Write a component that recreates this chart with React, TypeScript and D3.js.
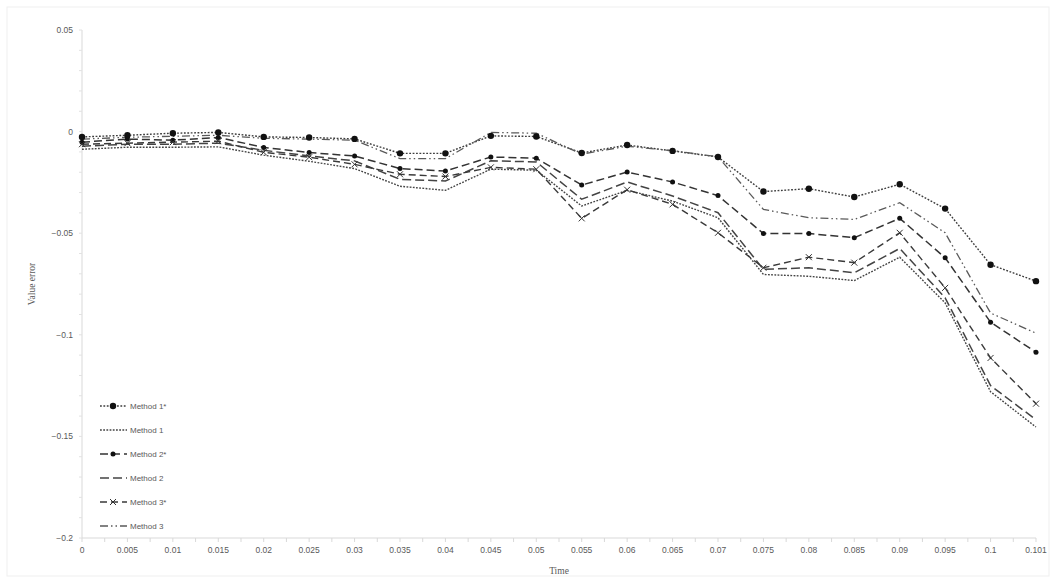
import React, { useEffect, useRef } from 'react';
import * as d3 from 'd3';

const timeLabels = [
  '0', '0.005', '0.01', '0.015', '0.02', '0.025', '0.03', '0.035', '0.04', '0.045', '0.05',
  '0.055', '0.06', '0.065', '0.07', '0.075', '0.08', '0.085', '0.09', '0.095', '0.1', '0.101',
];

const method1Star = [
  -0.0026, -0.0018, -0.0008, -0.0004, -0.0026, -0.0029, -0.0036, -0.0107, -0.0107, -0.0021, -0.0024,
  -0.0105, -0.0066, -0.0095, -0.0125, -0.0295, -0.0281, -0.0322, -0.0259, -0.0379, -0.0655, -0.0736,
];
const method1 = [
  -0.0087, -0.0077, -0.0077, -0.0075, -0.0116, -0.0146, -0.0182, -0.0269, -0.0289, -0.0185, -0.019,
  -0.0366, -0.0289, -0.0342, -0.0424, -0.0703, -0.0712, -0.0733, -0.0618, -0.0843, -0.128, -0.1454,
];
const method2Star = [
  -0.0052, -0.0037, -0.0042, -0.0029, -0.0078, -0.0103, -0.012, -0.0182, -0.0194, -0.0125, -0.0131,
  -0.0263, -0.0199, -0.0248, -0.0315, -0.0502, -0.0502, -0.0522, -0.0427, -0.0621, -0.0938, -0.1086,
];
const method2 = [
  -0.0072, -0.0062, -0.0062, -0.0057, -0.0092, -0.012, -0.0144, -0.0235, -0.0243, -0.0144, -0.0149,
  -0.0333, -0.0248, -0.0317, -0.0399, -0.0678, -0.067, -0.0695, -0.0575, -0.0818, -0.125, -0.1418,
];
const method3Star = [
  -0.0062, -0.0057, -0.0052, -0.0047, -0.0102, -0.0126, -0.0161, -0.021, -0.0221, -0.0176, -0.0185,
  -0.0427, -0.0286, -0.0358, -0.0498, -0.067, -0.0618, -0.0645, -0.0498, -0.0769, -0.1114, -0.1339,
];
const method3 = [
  -0.0037, -0.0028, -0.0023, -0.0018, -0.0033, -0.0037, -0.0042, -0.0133, -0.0133, -0.0004, -0.0008,
  -0.0111, -0.0072, -0.0094, -0.0124, -0.0383, -0.0424, -0.0432, -0.035, -0.0498, -0.0893, -0.0992,
];

const yTicks = [0.05, 0, -0.05, -0.1, -0.15, -0.2];

type Marker = 'circle' | 'dot' | 'cross' | 'none';

interface Series {
  name: string;
  values: number[];
  dash: string;
  color: string;
  width: number;
  marker: Marker;
}

const series: Series[] = [
  { name: 'Method 1*', values: method1Star, dash: '1.8,1.6', color: '#3d3d3d', width: 1.4, marker: 'circle' },
  { name: 'Method 1', values: method1, dash: '1.8,1.4', color: '#444', width: 1.4, marker: 'none' },
  { name: 'Method 2*', values: method2Star, dash: '8,4', color: '#333', width: 1.5, marker: 'dot' },
  { name: 'Method 2', values: method2, dash: '9,4', color: '#444', width: 1.5, marker: 'none' },
  { name: 'Method 3*', values: method3Star, dash: '7,4', color: '#3a3a3a', width: 1.4, marker: 'cross' },
  { name: 'Method 3', values: method3, dash: '8,3,1.5,3,1.5,3', color: '#5a5a5a', width: 1.3, marker: 'none' },
];

const drawMarker = (g: d3.Selection<SVGGElement, unknown, null, undefined>, kind: Marker, x: number, y: number) => {
  if (kind === 'circle') {
    g.append('circle').attr('cx', x).attr('cy', y).attr('r', 3.2).attr('fill', '#111');
  } else if (kind === 'dot') {
    g.append('circle').attr('cx', x).attr('cy', y).attr('r', 2.5).attr('fill', '#111');
  } else if (kind === 'cross') {
    const s = 3;
    g.append('path')
      .attr('d', `M${x - s},${y - s}L${x + s},${y + s}M${x - s},${y + s}L${x + s},${y - s}`)
      .attr('stroke', '#333')
      .attr('stroke-width', 1)
      .attr('fill', 'none');
  }
};

const App: React.FC = () => {
  const svgRef = useRef<SVGSVGElement>(null);
  const width = 1056;
  const height = 583;

  useEffect(() => {
    if (!svgRef.current) return;
    const svg = d3.select(svgRef.current);
    svg.selectAll('*').remove();

    const left = 82;
    const right = 1036;
    const top = 30;
    const bottom = 538;

    svg.append('rect')
      .attr('x', 7).attr('y', 7)
      .attr('width', width - 14).attr('height', height - 14)
      .attr('fill', '#fff')
      .attr('stroke', '#efefef');

    const xScale = d3.scalePoint<string>().domain(timeLabels).range([left, right]);
    const yScale = d3.scaleLinear().domain([-0.2, 0.05]).range([bottom, top]);

    const g = svg.append('g');

    // Axes lines
    g.append('line')
      .attr('x1', left).attr('x2', left)
      .attr('y1', top).attr('y2', bottom)
      .attr('stroke', '#d9d9d9');
    g.append('line')
      .attr('x1', left).attr('x2', right)
      .attr('y1', bottom).attr('y2', bottom)
      .attr('stroke', '#d9d9d9');

    // Minor y ticks
    d3.range(-0.2, 0.0501, 0.01).forEach(v => {
      g.append('line')
        .attr('x1', left - 3).attr('x2', left)
        .attr('y1', yScale(v)).attr('y2', yScale(v))
        .attr('stroke', '#e2e2e2');
    });

    // x ticks at categories and midpoints
    const step = xScale.step();
    timeLabels.forEach((t, i) => {
      const x = xScale(t) || 0;
      g.append('line')
        .attr('x1', x).attr('x2', x)
        .attr('y1', bottom).attr('y2', bottom + 4)
        .attr('stroke', '#d9d9d9');
      if (i < timeLabels.length - 1) {
        g.append('line')
          .attr('x1', x + step / 2).attr('x2', x + step / 2)
          .attr('y1', bottom).attr('y2', bottom + 4)
          .attr('stroke', '#d9d9d9');
      }
      g.append('text')
        .attr('x', x)
        .attr('y', bottom + 15)
        .attr('text-anchor', 'middle')
        .style('font-family', 'Liberation Sans, Arial, sans-serif')
        .style('font-size', '8.5px')
        .attr('fill', '#595959')
        .text(t);
    });

    yTicks.forEach(v => {
      g.append('text')
        .attr('x', left - 9)
        .attr('y', yScale(v))
        .attr('dy', '0.35em')
        .attr('text-anchor', 'end')
        .style('font-family', 'Liberation Sans, Arial, sans-serif')
        .style('font-size', '8.5px')
        .attr('fill', '#595959')
        .text(d3.format('')(v));
    });

    // Axis titles
    svg.append('text')
      .attr('transform', `translate(35, ${(top + bottom) / 2}) rotate(-90)`)
      .attr('text-anchor', 'middle')
      .style('font-family', 'Liberation Serif, Times New Roman, serif')
      .style('font-size', '9.5px')
      .attr('fill', '#595959')
      .text('Value error');
    svg.append('text')
      .attr('x', (left + right) / 2)
      .attr('y', 574)
      .attr('text-anchor', 'middle')
      .style('font-family', 'Liberation Serif, Times New Roman, serif')
      .style('font-size', '9.5px')
      .attr('fill', '#595959')
      .text('Time');

    // Lines
    const line = d3.line<number>()
      .x((_, i) => xScale(timeLabels[i]) || 0)
      .y(d => yScale(d));

    series.forEach(s => {
      g.append('path')
        .datum(s.values)
        .attr('d', line)
        .attr('fill', 'none')
        .attr('stroke', s.color)
        .attr('stroke-width', s.width)
        .attr('stroke-dasharray', s.dash);
    });
    series.forEach(s => {
      if (s.marker === 'none') return;
      const mg = g.append('g');
      s.values.forEach((v, i) => drawMarker(mg, s.marker, xScale(timeLabels[i]) || 0, yScale(v)));
    });

    // Legend
    const legend = svg.append('g');
    series.forEach((s, i) => {
      const y = 406 + i * 24;
      legend.append('line')
        .attr('x1', 100).attr('x2', 127)
        .attr('y1', y).attr('y2', y)
        .attr('stroke', s.color)
        .attr('stroke-width', s.width)
        .attr('stroke-dasharray', s.dash);
      drawMarker(legend, s.marker, 113, y);
      legend.append('text')
        .attr('x', 130)
        .attr('y', y)
        .attr('dy', '0.35em')
        .style('font-family', 'Liberation Sans, Arial, sans-serif')
        .style('font-size', '8px')
        .attr('fill', '#595959')
        .text(s.name);
    });
  }, []);

  return (
    <svg
      ref={svgRef}
      width={width}
      height={height}
      style={{ position: 'absolute', left: 0, top: 0, background: '#fff' }}
    />
  );
};

export default App;
